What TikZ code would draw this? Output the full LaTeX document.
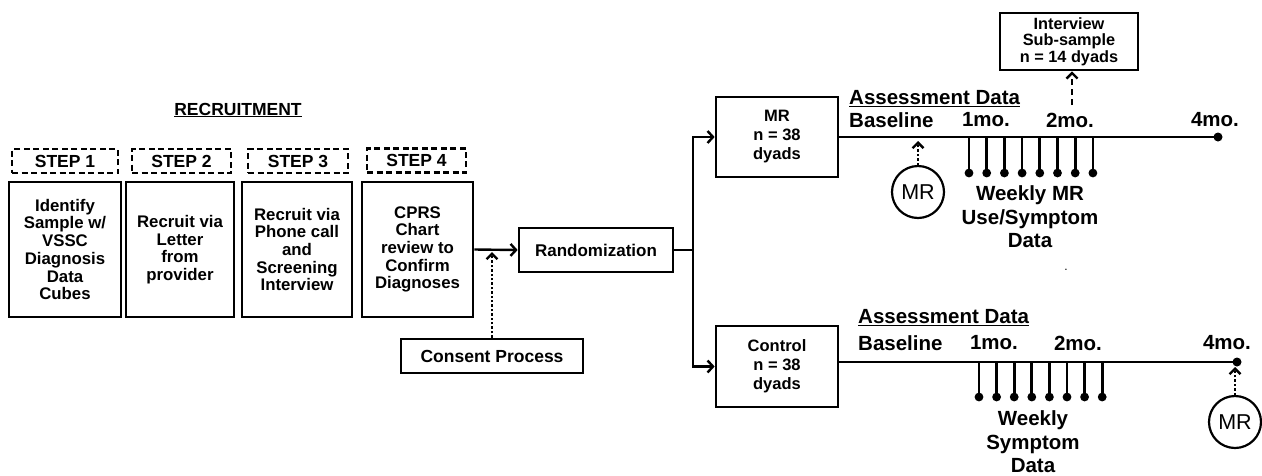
\documentclass[tikz,border=0pt]{standalone}
\usepackage{fontspec}
\setmainfont{Liberation Sans}
\usetikzlibrary{arrows.meta}
\begin{document}
\begin{tikzpicture}[x=1pt,y=-1pt,
  box/.style={draw, line width=2.7pt, rectangle, align=center, font=\bfseries\fontsize{16.8}{17.7}\selectfont, inner sep=0pt},
  stepbox/.style={draw, line width=2.5pt, dash pattern=on 6pt off 3.5pt, align=center, font=\bfseries\fontsize{17.5}{20}\selectfont, inner sep=0pt, minimum height=24pt},
  conn/.style={line width=2.4pt, -{Straight Barb[length=5.5pt,width=12pt,line width=2.4pt]}},
  dotconn/.style={line width=2.4pt, dotted, -{Straight Barb[length=5.5pt,width=11pt,line width=2.4pt]}},
  dashconn/.style={line width=2.4pt, dash pattern=on 6pt off 4pt, -{Straight Barb[length=5.5pt,width=11pt,line width=2.4pt]}},
  tl/.style={font=\bfseries\fontsize{20.5}{23.5}\selectfont, inner sep=0pt, align=center},
  timeline/.style={line width=2.7pt},
  tick/.style={line width=2.7pt},
  mrc/.style={draw, circle, line width=2.2pt, minimum size=52pt, inner sep=0pt, font=\fontsize{21.5}{22}\selectfont}
]
\useasboundingbox (0,0) rectangle (1262,475);

% recruitment title
\node[font=\bfseries\fontsize{17.5}{20}\selectfont, inner sep=0pt] (rec) at (238,110) {\underline{RECRUITMENT}};

% step labels
\node[stepbox, minimum width=106pt] (d1) at (65,161) {STEP 1};
\node[stepbox, minimum width=99pt] (d2) at (181.5,161) {STEP 2};
\node[stepbox, minimum width=100pt] (d3) at (298,161) {STEP 3};
\node[stepbox, minimum width=99pt] (d4) at (416.5,160.5) {STEP 4};

% step boxes
\node[box, minimum width=112pt, minimum height=135pt] (s1) at (65,249.5) {Identify\\Sample w/\\VSSC\\Diagnosis\\Data\\Cubes};
\node[box, minimum width=108pt, minimum height=135pt] (s2) at (180,249.5) {Recruit via\\Letter\\from\\provider};
\node[box, minimum width=110pt, minimum height=135pt] (s3) at (297,249.5) {Recruit via\\Phone call\\and\\Screening\\Interview};
\node[box, minimum width=111pt, minimum height=135pt] (s4) at (417.5,249.5) {CPRS\\Chart\\review to\\Confirm\\Diagnoses};

\node[box, font=\bfseries\fontsize{17}{20}\selectfont, minimum width=154pt, minimum height=44pt] (rand) at (596,250) {Randomization};
\node[box, font=\bfseries\fontsize{17.5}{20}\selectfont, minimum width=182pt, minimum height=34pt] (cons) at (492,356) {Consent Process};

\node[box, font=\bfseries\fontsize{16.5}{19}\selectfont, minimum width=122pt, minimum height=80pt] (mr) at (777,137) {MR\\n = 38\\dyads};
\node[box, font=\bfseries\fontsize{16.5}{19}\selectfont, minimum width=122pt, minimum height=81pt] (ctl) at (777,366.5) {Control\\n = 38\\dyads};
\node[box, font=\bfseries\fontsize{16.3}{16.5}\selectfont, minimum width=138pt, minimum height=57pt] (int) at (1069,41.5) {Interview\\Sub-sample\\n = 14 dyads};

% connectors left part
\draw[conn] (s4.east) -- (rand.west);
\coordinate (consTip) at (492,252);
\draw[dotconn] (cons.north) -- (consTip);
\coordinate (split) at (693,250);
\draw[line width=2.4pt] (rand.east) -- (split);
\draw[conn] (split) |- (mr.west);
\draw[conn] (split) |- (ctl.west);

% MR timeline
\coordinate (mrend) at (1218,137);
\draw[timeline] (mr.east) -- (mrend);
\fill (mrend) circle (4.5pt);
\foreach \i in {0,...,7} {
  \draw[tick] (969+17.7*\i,137) -- (969+17.7*\i,173);
  \fill (969+17.7*\i,173) circle (4.4pt);
}
\node[tl, anchor=west] (ad1) at (849,99) {\underline{Assessment Data}};
\node[tl, anchor=west] (bl1) at (849,120) {Baseline};
\node[tl] (m11) at (986,120) {1mo.};
\node[tl] (m21) at (1070,120) {2mo.};
\node[tl] (m41) at (1215,120) {4mo.};
\node[tl] (wk1) at (1030,217) {Weekly MR\\Use/Symptom\\Data};
\node[mrc] (c1) at (918,192) {MR};
\coordinate (c1tip) at (918,141);
\draw[dotconn] (c1.north) -- (c1tip);
\coordinate (intfoot) at (1072,105);
\draw[dashconn] (intfoot) -- (int.south -| intfoot);
\node[inner sep=0pt, font=\fontsize{12}{12}\selectfont] (stray) at (1066,270) {.};

% Control timeline
\coordinate (ctlend) at (1237,362);
\draw[timeline] ([yshift=4.5pt]ctl.east) -- (ctlend);
\fill (ctlend) circle (4.5pt);
\foreach \i in {0,...,7} {
  \draw[tick] (979+17.6*\i,362) -- (979+17.6*\i,397);
  \fill (979+17.6*\i,397) circle (4.4pt);
}
\node[tl, anchor=west] (ad2) at (858,318) {\underline{Assessment Data}};
\node[tl, anchor=west] (bl2) at (858,343) {Baseline};
\node[tl] (m12) at (994,343) {1mo.};
\node[tl] (m22) at (1078,343) {2mo.};
\node[tl] (m42) at (1227,343) {4mo.};
\node[tl] (wk2) at (1033,442) {Weekly\\Symptom\\Data};
\node[mrc] (c2) at (1235,422) {MR};
\coordinate (c2tip) at (1235,367);
\draw[dotconn] (c2.north) -- (c2tip);
\end{tikzpicture}
\end{document}
